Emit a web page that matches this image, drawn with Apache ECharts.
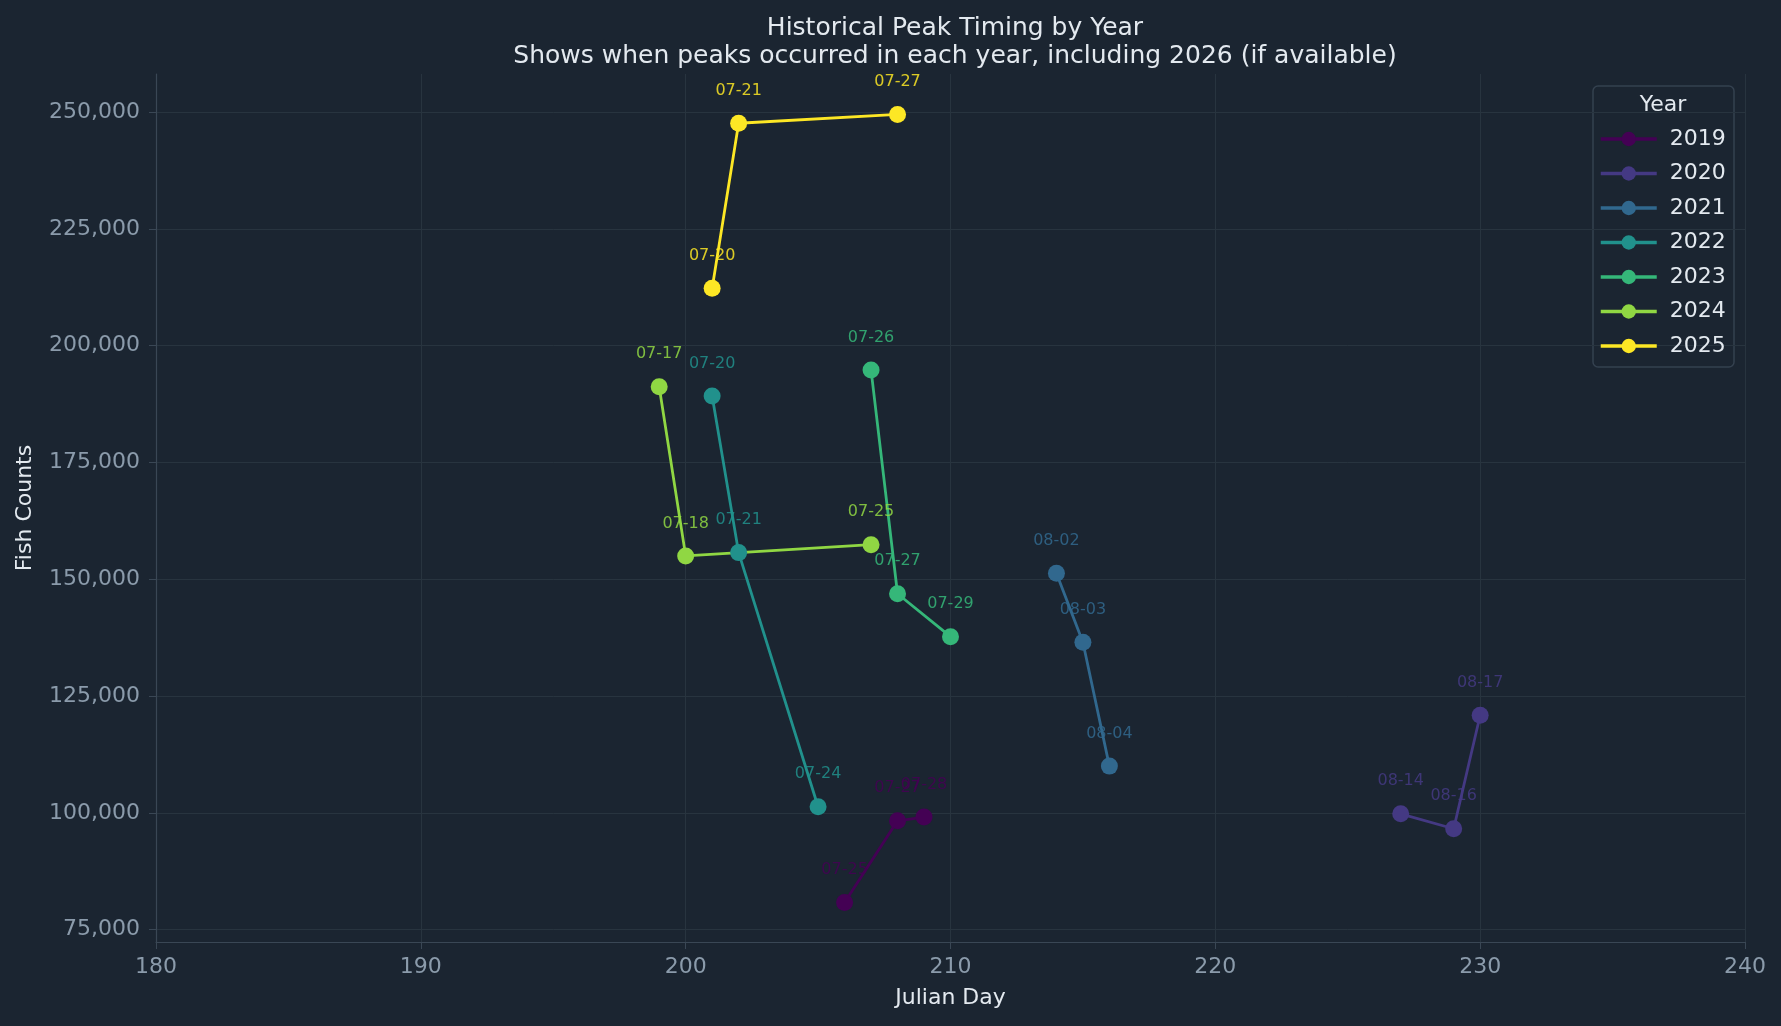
<!DOCTYPE html>
<html>
<head>
<meta charset="utf-8">
<script src="https://cdn.jsdelivr.net/npm/echarts@6/dist/echarts.min.js"></script>
<style>
  html, body { margin: 0; padding: 0; background: #1b2531; }
  #chart { width: 1781px; height: 1026px; }
</style>
</head>
<body>
<div id="chart"></div>
<script>
// peak data per year
const years = ['2019', '2020', '2021', '2022', '2023', '2024', '2025'];
const yearColors = ['#440154', '#443983', '#31688e', '#21918c', '#35b779', '#90d743', '#fde725'];

const peakDays = [
  [206, 208, 209],
  [227, 229, 230],
  [214, 215, 216],
  [201, 202, 205],
  [207, 208, 210],
  [199, 200, 207],
  [201, 202, 208],
];
const peakCounts = [
  [80800, 98300, 99100],
  [99800, 96600, 120900],
  [151300, 136500, 110000],
  [189200, 155700, 101300],
  [194800, 146900, 137700],
  [191200, 155000, 157400],
  [212300, 247600, 249500],
];
const peakDates = [
  ['07-25', '07-27', '07-28'],
  ['08-14', '08-16', '08-17'],
  ['08-02', '08-03', '08-04'],
  ['07-20', '07-21', '07-24'],
  ['07-26', '07-27', '07-29'],
  ['07-17', '07-18', '07-25'],
  ['07-20', '07-21', '07-27'],
];
const yTicks = [75000, 100000, 125000, 150000, 175000, 200000, 225000, 250000];

const FONT = 'DejaVu Sans';
const chart = echarts.init(document.getElementById('chart'));

const series = years.map((yr, i) => ({
  name: yr,
  type: 'line',
  data: peakDays[i].map((d, j) => [d, peakCounts[i][j], peakDates[i][j]]),
  symbol: 'circle',
  symbolSize: 17,
  lineStyle: { color: yearColors[i], width: 2.8 },
  itemStyle: { color: yearColors[i] },
  label: {
    show: true,
    position: 'top',
    distance: 16,
    formatter: p => p.data[2],
    color: yearColors[i],
    opacity: 0.85,
    fontFamily: FONT,
    fontSize: 16,
  },
  emphasis: { disabled: true },
  animation: false,
}));

chart.setOption({
  backgroundColor: '#1b2531',
  animation: false,
  textStyle: { fontFamily: FONT },
  title: {
    text: 'Historical Peak Timing by Year\nShows when peaks occurred in each year, including 2026 (if available)',
    left: 950,
    top: 9,
    textAlign: 'center',
    textStyle: { color: '#e3e9ef', fontFamily: FONT, fontSize: 25, fontWeight: 'normal', lineHeight: 28 },
  },
  grid: { left: 156, right: 36, top: 74, bottom: 84 },
  xAxis: {
    type: 'value',
    min: 180,
    max: 240,
    interval: 10,
    name: 'Julian Day',
    nameLocation: 'middle',
    nameGap: 45,
    nameTextStyle: { color: '#e3e9ef', fontSize: 22, fontFamily: FONT },
    axisLine: { show: true, lineStyle: { color: '#3a4755', width: 1.2 } },
    axisTick: { show: true, length: 7, lineStyle: { color: '#3a4755' } },
    axisLabel: { color: '#8b9bab', fontSize: 22, margin: 14, fontFamily: FONT },
    splitLine: { show: true, lineStyle: { color: '#28343f', width: 1 } },
  },
  yAxis: {
    type: 'value',
    min: 72355,
    max: 258145,
    name: 'Fish Counts',
    nameLocation: 'middle',
    nameRotate: 90,
    nameGap: 120,
    nameTextStyle: { color: '#e3e9ef', fontSize: 22, fontFamily: FONT },
    axisLine: { show: true, lineStyle: { color: '#3a4755', width: 1.2 } },
    axisTick: { show: true, length: 7, customValues: yTicks, lineStyle: { color: '#3a4755' } },
    axisLabel: {
      color: '#8b9bab', fontSize: 22, margin: 16, fontFamily: FONT,
      customValues: yTicks,
      formatter: v => v.toLocaleString('en-US'),
    },
    splitLine: { show: true, lineStyle: { color: '#28343f', width: 1 } },
  },
  legend: {
    data: years,
    orient: 'vertical',
    left: 1594,
    top: 122,
    itemWidth: 56,
    itemHeight: 18,
    itemGap: 10.5,
    lineStyle: { width: 3.5 },
    textStyle: { color: '#e3e9ef', fontSize: 22, fontFamily: FONT, padding: [0, 0, 0, 8], lineHeight: 24 },
  },
  graphic: [
    {
      type: 'rect',
      z: 0,
      shape: { x: 1593, y: 86, width: 141, height: 281, r: 5 },
      style: { fill: '#1b2531', stroke: '#34414f', lineWidth: 1.5 },
    },
    {
      type: 'text',
      z: 1,
      x: 1663,
      y: 105,
      style: { text: 'Year', fill: '#e3e9ef', font: '22px "DejaVu Sans"', textAlign: 'center', textVerticalAlign: 'middle' },
    },
  ],
  series: series,
});
</script>
</body>
</html>
